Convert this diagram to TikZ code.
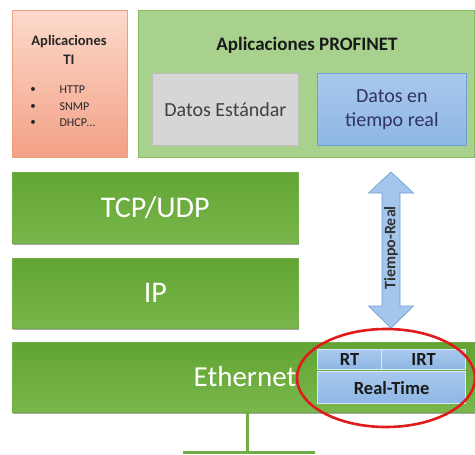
\documentclass[tikz,border=0pt]{standalone}
\usepackage{fontspec}
\setmainfont{Carlito}
\usetikzlibrary{shapes.geometric,shadows}

\definecolor{tiTop}{HTML}{FCDACB}
\definecolor{tiBot}{HTML}{F3A086}
\definecolor{tiLine}{HTML}{EE9F80}
\definecolor{pnFill}{HTML}{A9D18E}
\definecolor{pnLine}{HTML}{84BD62}
\definecolor{layTop}{HTML}{62A534}
\definecolor{layBot}{HTML}{79B64B}
\definecolor{grayFill}{HTML}{D6D6D6}
\definecolor{grayLine}{HTML}{BDBDBD}
\definecolor{bluTop}{HTML}{A9C9EE}
\definecolor{bluBot}{HTML}{8DB6E3}
\definecolor{bluLine}{HTML}{6C9FD3}
\definecolor{redRing}{HTML}{E01B1B}
\definecolor{wire}{HTML}{70AD47}

\tikzset{
  box/.style={anchor=north west, inner sep=0pt, align=center},
  layer/.style={box, top color=layTop, bottom color=layBot, draw=layTop!90!white,
    line width=0.6pt, text=white, font=\fontsize{30}{34}\selectfont,
    drop shadow={shadow xshift=0.5pt, shadow yshift=-2pt, opacity=0.35, fill=black}},
  databox/.style={box, line width=0.8pt, font=\fontsize{20}{24}\selectfont},
  rtbox/.style={box, top color=bluTop, bottom color=bluBot, draw=white!75!bluLine,
    line width=1.2pt, font=\bfseries\fontsize{18.5}{20}\selectfont, text=black!90},
  bullet/.style={font=\fontsize{11}{12}\selectfont, text=black!85},
  item/.style={font=\fontsize{12}{13}\selectfont, anchor=west, text=black!85},
}

\begin{document}
\begin{tikzpicture}[x=1pt, y=-1pt]
\useasboundingbox (0,0) rectangle (475,455);

% application boxes
\node[box, top color=tiTop, bottom color=tiBot, draw=tiLine, line width=0.8pt,
      minimum width=115pt, minimum height=147pt] (ti) at (12,10) {};
\node[font=\bfseries\fontsize{14.5}{18.5}\selectfont, align=center, text=black!85] (tititle)
      at (69,50) {Aplicaciones\\TI};
\node[bullet] (bul1) at (33,90) {\textbullet};
\node[bullet] (bul2) at (33,107) {\textbullet};
\node[bullet] (bul3) at (33,123) {\textbullet};
\node[item] (item1) at (56,90) {HTTP};
\node[item] (item2) at (56,107) {SNMP};
\node[item] (item3) at (56,123) {DHCP…};

\node[box, fill=pnFill, draw=pnLine, line width=0.8pt,
      minimum width=336pt, minimum height=147pt] (pn) at (138,10) {};
\node[font=\bfseries\fontsize{19}{22}\selectfont, text=black!90] (pntitle) at (307,45)
      {Aplicaciones PROFINET};

\node[databox, fill=grayFill, draw=grayLine, text=black!75,
      minimum width=146pt, minimum height=72pt] (std) at (152,73) {Datos Estándar};
\node[databox, top color=bluTop, bottom color=bluBot, draw=bluLine, text=black!70!blue!60!gray,
      minimum width=149pt, minimum height=72pt] (rtdata) at (317,73) {Datos en\\tiempo real};

% protocol layers
\node[layer, minimum width=286pt, minimum height=71pt] (tcp) at (12,172) {TCP/UDP};
\node[layer, minimum width=286pt, minimum height=70pt] (ip) at (12,258) {IP};
\node[layer, minimum width=463pt, minimum height=70pt] (eth) at (12,342) {};
\node[text=white, font=\fontsize{29}{33}\selectfont] (ethtxt) at (245,377) {Ethernet};

% real-time channels inside the Ethernet layer
\node[rtbox, minimum width=64pt, minimum height=20pt] (rt) at (317,349) {RT};
\node[rtbox, minimum width=84pt, minimum height=20pt] (irt) at (381,349) {IRT};
\node[rtbox, minimum width=148pt, minimum height=32pt] (realtime) at (317,371) {Real-Time};

\node[ellipse, draw=redRing, line width=2.6pt, minimum width=178pt, minimum height=98pt,
      inner sep=0pt] (ring) at (386,378) {};

% real-time double arrow
\filldraw[fill=bluTop!85!bluBot, draw=bluLine, line width=0.7pt]
  (391,172) -- (413.5,193) -- (400,193) -- (400,306) -- (413.5,306) -- (391,328)
  -- (368.5,306) -- (382,306) -- (382,193) -- (368.5,193) -- cycle;
\node[rotate=90, font=\bfseries\fontsize{16}{17}\selectfont, text=black!80] (tr) at (391,248)
  {Tiempo-Real};

% physical connection
\coordinate (tap) at (247,452);
\coordinate (busL) at (183,452);
\coordinate (busR) at (315,452);
\draw[wire, line width=3pt] (eth.south -| tap) -- (tap);
\draw[wire, line width=3pt] (busL) -- (busR);
\end{tikzpicture}
\end{document}
